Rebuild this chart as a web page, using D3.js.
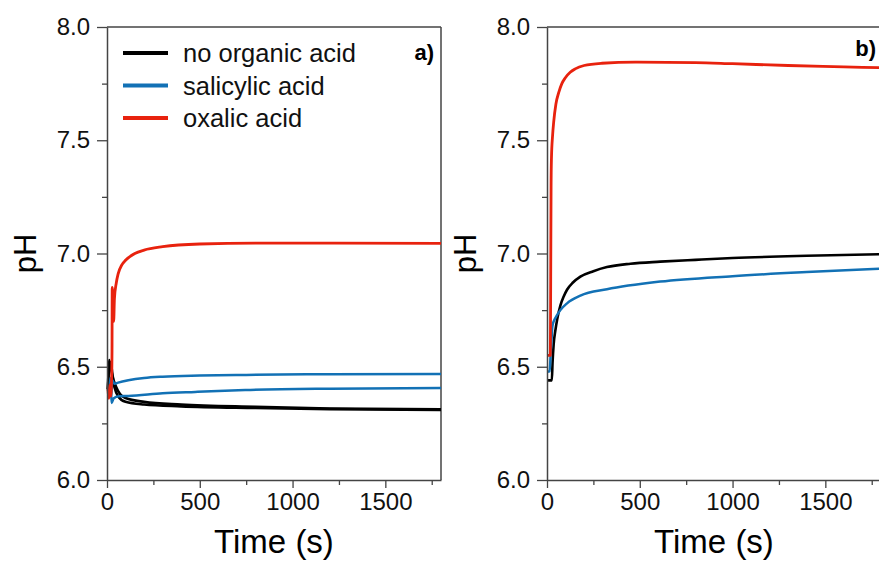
<!DOCTYPE html>
<html lang="en">
<head>
  <meta charset="UTF-8">
  <title>pH vs time</title>
  <script src="https://cdn.jsdelivr.net/npm/d3@7/dist/d3.min.js"></script>
  <style>
    body { margin: 0; background: #fff; }
    text { font-family: "Liberation Sans", Arial, sans-serif; }
  </style>
</head>
<body>
  <script>
    // series: [time (s), pH]
    const seriesNames = ['no organic acid', 'salicylic acid', 'oxalic acid'];
    const seriesColors = ['#000000', '#1271b5', '#e8220e'];
    const xTicks = [0, 500, 1000, 1500];
    const yTicks = [6.0, 6.5, 7.0, 7.5, 8.0];

    // panel a)
    const aNoAcid1 = [[4,6.40],[8,6.47],[12,6.53],[16,6.50],[20,6.52],[30,6.46],[50,6.41],[70,6.38],[100,6.362],[200,6.345],[400,6.333],[800,6.323],[1200,6.316],[1800,6.312]];
    const aNoAcid2 = [[5,6.40],[10,6.48],[14,6.52],[20,6.50],[40,6.41],[60,6.37],[100,6.345],[200,6.333],[400,6.325],[800,6.318],[1200,6.313],[1800,6.309]];
    const aSalicylic1 = [[5,6.40],[12,6.38],[18,6.45],[22,6.37],[28,6.44],[40,6.425],[60,6.43],[115,6.44],[200,6.45],[300,6.456],[500,6.461],[750,6.464],[1200,6.467],[1800,6.468]];
    const aSalicylic2 = [[6,6.40],[14,6.37],[20,6.42],[25,6.34],[35,6.36],[63,6.37],[115,6.371],[300,6.383],[475,6.389],[745,6.397],[1200,6.403],[1800,6.406]];
    const aOxalic = [[5,6.40],[10,6.36],[15,6.42],[20,6.37],[25,6.45],[27,6.57],[28,6.85],[32,6.80],[36,6.70],[40,6.80],[50,6.87],[60,6.91],[80,6.95],[100,6.97],[150,7.0],[200,7.015],[300,7.03],[500,7.042],[800,7.046],[1200,7.046],[1800,7.045]];

    // panel b)
    const bNoAcid = [[2,6.44],[26,6.44],[30,6.52],[36,6.60],[45,6.66],[55,6.71],[72,6.77],[90,6.81],[108,6.84],[140,6.872],[180,6.898],[250,6.922],[323,6.94],[450,6.955],[610,6.964],[800,6.972],[1000,6.98],[1400,6.99],[1800,6.997]];
    const bSalicylic = [[2,6.478],[14,6.48],[20,6.56],[25,6.63],[29,6.677],[36,6.70],[45,6.715],[72,6.75],[108,6.78],[180,6.814],[323,6.842],[610,6.876],[1000,6.90],[1400,6.918],[1800,6.933]];
    const bOxalic = [[2,6.55],[18,6.55],[20,6.9],[22,7.3],[24,7.42],[30,7.52],[36,7.58],[48,7.66],[63,7.71],[80,7.75],[98,7.775],[125,7.80],[152,7.815],[200,7.83],[296,7.84],[475,7.845],[800,7.843],[1000,7.838],[1300,7.83],[1600,7.824],[1800,7.82]];

    const panels = [
      { left: 107, label: 'a)', labelX: 434, labelY: 60, box: true, legend: true,
        lines: [[aNoAcid1, 0], [aNoAcid2, 0], [aSalicylic1, 1], [aSalicylic2, 1], [aOxalic, 2]] },
      { left: 547, label: 'b)', labelX: 876, labelY: 56, box: false, legend: false,
        lines: [[bNoAcid, 0], [bSalicylic, 1], [bOxalic, 2]] }
    ];

    const W = 879, H = 563;
    const plotTop = 27, plotBottom = 480, plotW = 334;
    const axisColor = '#444';
    const lineWidths = [2.6, 2.5, 2.8];

    const svg = d3.select('body').append('svg')
      .attr('width', W).attr('height', H);

    panels.forEach(p => {
      const x = d3.scaleLinear().domain([0, 1800]).range([p.left, p.left + plotW]);
      const y = d3.scaleLinear().domain([6, 8]).range([plotBottom, plotTop]);
      const g = svg.append('g');

      // frame
      g.append('line').attr('x1', p.left).attr('x2', p.left + plotW)
        .attr('y1', plotTop).attr('y2', plotTop).attr('stroke', axisColor).attr('stroke-width', 1.5);
      if (p.box) {
        g.append('line').attr('x1', p.left + plotW).attr('x2', p.left + plotW)
          .attr('y1', plotTop).attr('y2', plotBottom).attr('stroke', axisColor).attr('stroke-width', 1.5);
      }

      // data lines
      const lineGen = d3.line().x(d => x(d[0])).y(d => y(d[1])).curve(d3.curveMonotoneX);
      p.lines.forEach(([data, si]) => {
        g.append('path').attr('d', lineGen(data))
          .attr('fill', 'none').attr('stroke', seriesColors[si])
          .attr('stroke-width', lineWidths[si])
          .attr('stroke-linejoin', 'round');
      });

      // minor ticks
      g.append('g').attr('transform', `translate(0,${plotBottom})`)
        .call(d3.axisBottom(x).tickValues([250, 750, 1250, 1750]).tickSize(5).tickFormat(''))
        .call(a => a.select('.domain').remove());
      g.append('g').attr('transform', `translate(${p.left},0)`)
        .call(d3.axisLeft(y).tickValues([6.25, 6.75, 7.25, 7.75]).tickSize(5).tickFormat(''))
        .call(a => a.select('.domain').remove());

      // major axes
      g.append('g').attr('transform', `translate(0,${plotBottom})`)
        .call(d3.axisBottom(x).tickValues(xTicks).tickSize(8).tickSizeOuter(0).tickPadding(5).tickFormat(d3.format('d')));
      g.append('g').attr('transform', `translate(${p.left},0)`)
        .call(d3.axisLeft(y).tickValues(yTicks).tickSize(10).tickSizeOuter(0).tickPadding(7).tickFormat(d3.format('.1f')));

      g.selectAll('.tick line').attr('stroke', axisColor).attr('stroke-width', 1.3);
      g.selectAll('.domain').attr('stroke', axisColor).attr('stroke-width', 1.5);
      g.selectAll('.tick text').attr('font-size', 24).attr('fill', '#111')
        .attr('font-family', '"Liberation Sans", Arial, sans-serif');

      // titles
      g.append('text').attr('x', p.left + plotW / 2).attr('y', 553)
        .attr('text-anchor', 'middle').attr('font-size', 33).text('Time (s)');
      g.append('text').attr('transform', `translate(${p.left - 71},${(plotTop + plotBottom) / 2}) rotate(-90)`)
        .attr('text-anchor', 'middle').attr('font-size', 31).text('pH');

      g.append('text').attr('x', p.labelX).attr('y', p.labelY)
        .attr('text-anchor', 'end').attr('font-size', 22).attr('font-weight', 'bold').text(p.label);

      if (p.legend) {
        const lg = g.append('g');
        seriesNames.forEach((name, i) => {
          const ly = 53 + i * 32.5;
          lg.append('line').attr('x1', 123).attr('x2', 168).attr('y1', ly).attr('y2', ly)
            .attr('stroke', seriesColors[i]).attr('stroke-width', 4);
          lg.append('text').attr('x', 183).attr('y', ly + 9)
            .attr('font-size', 25.5).attr('fill', '#111').text(name);
        });
      }
    });
  </script>
</body>
</html>
